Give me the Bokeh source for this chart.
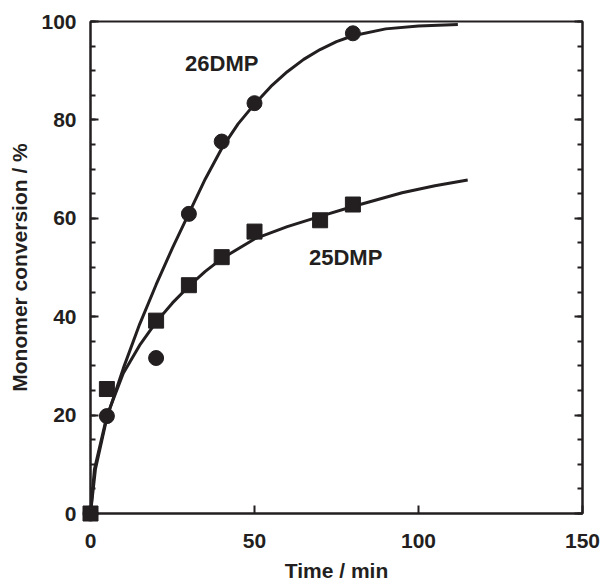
from bokeh.plotting import figure
from bokeh.models import (Range1d, LinearAxis, SingleIntervalTicker, FixedTicker, Label,
                          CustomJSTickFormatter)
from bokeh.embed import file_html
from bokeh.resources import INLINE

# measured points
t_26 = [0, 5, 20, 30, 40, 50, 80]
conv_26 = [0, 19.8, 31.6, 60.9, 75.6, 83.4, 97.6]
t_25 = [0, 5, 20, 30, 40, 50, 70, 80]
conv_25 = [0, 25.3, 39.2, 46.4, 52.1, 57.3, 59.6, 62.8]

# fitted curves
fit_t_26 = [0, 1.5, 5, 10, 15, 20, 25, 30, 35, 40, 45, 50, 55, 60, 65, 70, 75, 80, 90, 100, 112]
fit_c_26 = [0, 9, 19.5, 29.5, 38.5, 46.5, 54, 61, 68, 74.2, 79.2, 83.2, 86.8, 89.8, 92.3,
            94.3, 95.9, 97.1, 98.5, 99.1, 99.4]
fit_t_25 = [0, 1.2, 5, 10, 15, 20, 25, 30, 35, 40, 50, 60, 70, 80, 95, 105, 115]
fit_c_25 = [0, 9, 19.8, 28.5, 34.2, 38.9, 42.8, 46.2, 49.2, 51.8, 55.8, 58.3, 60.4, 62.4,
            65.2, 66.6, 67.8]

x_ticks = [0, 50, 100, 150]

INK = "#231f20"
FONT = "Liberation Sans"
FS = "21px"

p = figure(width=602, height=584, output_backend="svg", toolbar_location=None,
           x_range=Range1d(0, 150), y_range=Range1d(0, 100),
           min_border_left=90, min_border_right=20, min_border_top=21, min_border_bottom=69,
           x_axis_location=None, y_axis_location=None)
p.grid.visible = False
p.outline_line_color = INK
p.outline_line_width = 2
p.background_fill_color = "white"
p.border_fill_color = "white"

def style_axis(ax):
    ax.axis_line_color = INK
    ax.axis_line_width = 2
    ax.major_tick_line_color = INK
    ax.major_tick_line_width = 2
    ax.minor_tick_line_color = INK
    ax.minor_tick_line_width = 2
    ax.major_tick_in = 8
    ax.major_tick_out = 0
    ax.minor_tick_in = 5
    ax.minor_tick_out = 0
    ax.major_label_text_font = FONT
    ax.major_label_text_font_style = "bold"
    ax.major_label_text_font_size = FS
    ax.major_label_text_color = INK
    ax.axis_label_text_font = FONT
    ax.axis_label_text_font_style = "bold"
    ax.axis_label_text_font_size = FS
    ax.axis_label_text_color = INK

yl = LinearAxis(ticker=SingleIntervalTicker(interval=20, num_minor_ticks=4),
                axis_label="Monomer conversion / %")
style_axis(yl)
yl.major_label_standoff = 14
yl.axis_label_standoff = 7
p.add_layout(yl, "left")

yr = LinearAxis(ticker=SingleIntervalTicker(interval=20, num_minor_ticks=4),
                formatter=CustomJSTickFormatter(code="return ''"))
style_axis(yr)
yr.major_label_standoff = 0
p.add_layout(yr, "right")

xb = LinearAxis(ticker=FixedTicker(ticks=x_ticks), axis_label="Time / min")
style_axis(xb)
xb.minor_tick_in = 0
xb.major_label_standoff = 20
xb.axis_label_standoff = 8
p.add_layout(xb, "below")

p.line(fit_t_26, fit_c_26, line_color=INK, line_width=3)
p.line(fit_t_25, fit_c_25, line_color=INK, line_width=3)
c = p.scatter(t_26, conv_26, marker="circle", size=15, fill_color=INK, line_color=INK)
s = p.scatter(t_25, conv_25, marker="square", size=15, fill_color=INK, line_color=INK)
c.level = "overlay"
s.level = "overlay"

for txt, x, y in [("26DMP", 40, 91.4), ("25DMP", 77.8, 52)]:
    p.add_layout(Label(x=x, y=y, text=txt, text_font=FONT, text_font_style="bold",
                       text_font_size="22px", text_color=INK,
                       text_align="center", text_baseline="middle"))

open("out.html", "w").write(file_html(p, INLINE))
